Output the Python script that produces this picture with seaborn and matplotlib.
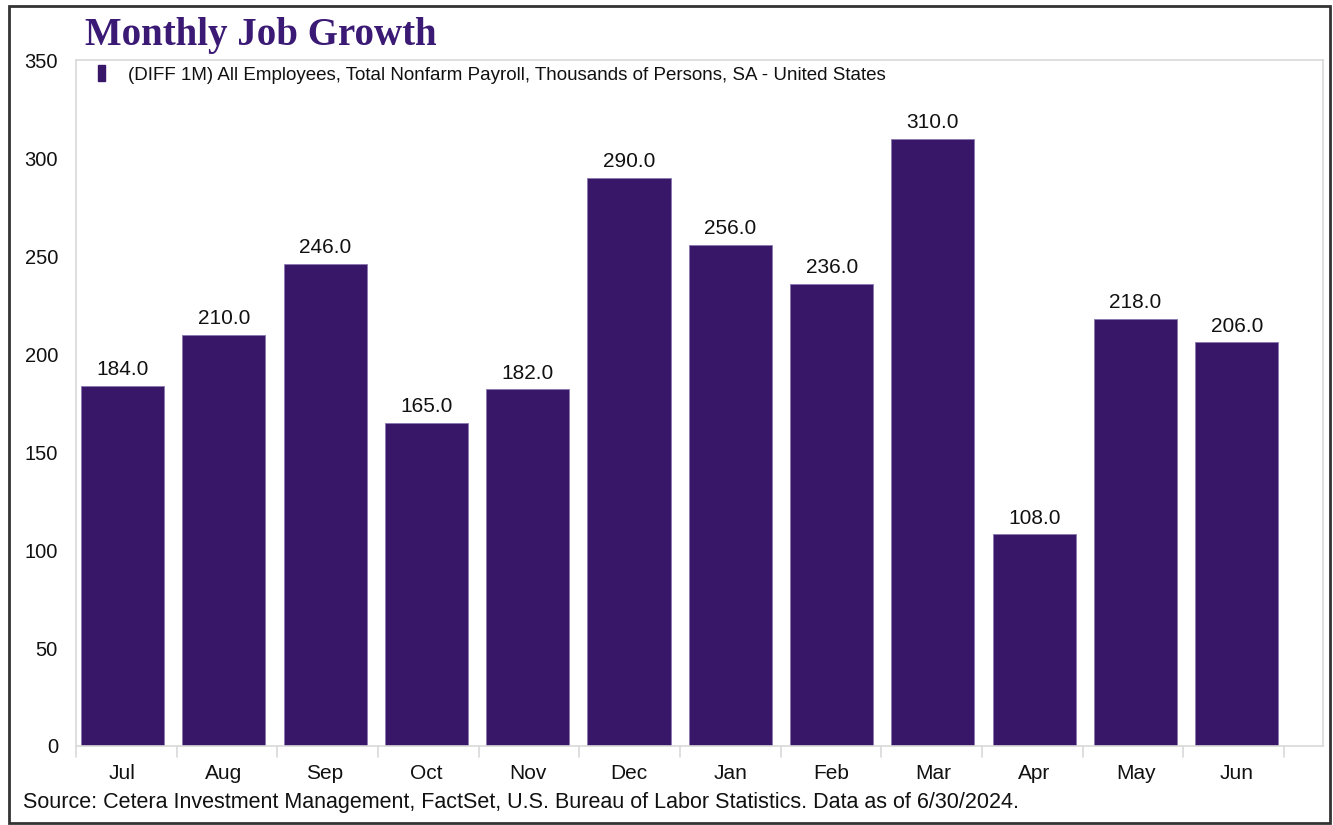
import matplotlib
matplotlib.use("Agg")
import matplotlib.pyplot as plt
import seaborn as sns
import pandas as pd
import numpy as np
from matplotlib.patches import Rectangle

months = ["Jul", "Aug", "Sep", "Oct", "Nov", "Dec", "Jan", "Feb", "Mar", "Apr", "May", "Jun"]
jobs = [184.0, 210.0, 246.0, 165.0, 182.0, 290.0, 256.0, 236.0, 310.0, 108.0, 218.0, 206.0]
yticks = [0, 50, 100, 150, 200, 250, 300, 350]
series_name = "(DIFF 1M) All Employees, Total Nonfarm Payroll, Thousands of Persons, SA - United States"
title = "Monthly Job Growth"
source = "Source: Cetera Investment Management, FactSet, U.S. Bureau of Labor Statistics. Data as of 6/30/2024."

sns.set_style("white")
plt.rcParams["font.family"] = ["Liberation Sans", "DejaVu Sans"]

BAR = "#381668"
GRID = "#d9d9d9"
TXT = "#111111"

df = pd.DataFrame({"month": months, "jobs": jobs})

fig = plt.figure(figsize=(13.33, 8.25), dpi=100)
ax = fig.add_axes([0.057, 0.0958, 0.9355, 0.831])

sns.barplot(data=df, x="month", y="jobs", color=BAR, width=0.82, saturation=1,
            edgecolor="#8a78b0", linewidth=0.6, ax=ax)

ax.set_ylim(0, 350)
ax.set_xlim(-0.459, 11.85)
ax.set_yticks(yticks)
ax.set_xticks(np.arange(len(months)))
ax.set_xticklabels(months)
ax.set_xlabel("")
ax.set_ylabel("")

for s in ["left", "right", "top", "bottom"]:
    ax.spines[s].set_visible(True)
    ax.spines[s].set_color(GRID)
    ax.spines[s].set_linewidth(1.2)

ax.tick_params(axis="y", length=11, width=1, color=GRID, labelsize=14.5, pad=2, labelcolor=TXT)
ax.tick_params(axis="x", length=0, labelsize=15, pad=13, labelcolor=TXT)
# category boundary tick marks below the x axis
for b in np.linspace(-0.459, 11.466, 13):
    ax.plot([b, b], [0, -5.5], color=GRID, lw=1.2, clip_on=False)

for i, v in enumerate(jobs):
    ax.text(i, v + 3.5, f"{v:.1f}", ha="center", va="bottom", fontsize=15, color=TXT)

# legend
ax.legend(handles=[Rectangle((0, 0), 1, 1, color=BAR)], labels=[series_name],
          loc="upper left", bbox_to_anchor=(0.007, 1.012), frameon=False, fontsize=13.5,
          handlelength=0.4, handleheight=0.9, handletextpad=1.2, borderaxespad=0.3,
          labelcolor=TXT)

fig.text(0.064, 0.957, title, fontsize=28, fontweight="bold", color="#3b1a75",
         family=["Liberation Serif", "DejaVu Serif"], ha="left", va="center")
fig.text(0.017, 0.027, source, fontsize=15.5, color=TXT, ha="left", va="center")

# outer frame
fig.patches.append(Rectangle((0.0065, 0.0025), 0.9915, 0.99, transform=fig.transFigure,
                             fill=False, edgecolor="#333333", lw=2))

fig.savefig("out.png", dpi=100)
